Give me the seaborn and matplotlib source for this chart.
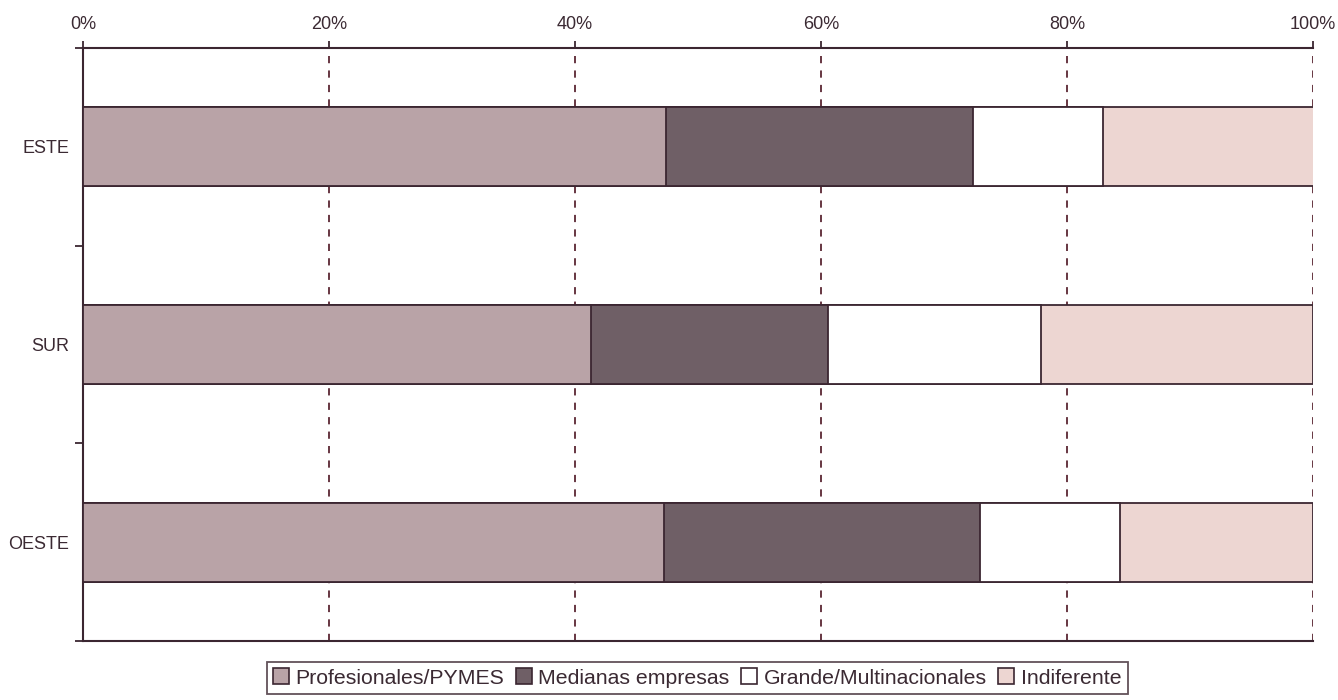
import matplotlib
matplotlib.use("Agg")
import matplotlib.pyplot as plt
import seaborn as sns
import numpy as np
import pandas as pd
from matplotlib.patches import Patch
from matplotlib.ticker import FixedLocator, PercentFormatter

# ---- data (percent of each region) ----
regions = ["ESTE", "SUR", "OESTE"]
series_names = ["Profesionales/PYMES", "Medianas empresas",
                "Grande/Multinacionales", "Indiferente"]
profesionales = [47.4, 41.3, 47.2]
medianas = [25.0, 19.3, 25.7]
grandes = [10.5, 17.3, 11.4]
indiferente = [17.2, 22.1, 15.7]
x_ticks = [0, 20, 40, 60, 80, 100]

colors = ["#b9a3a7", "#6f5f66", "#ffffff", "#edd6d2"]
edge = "#3b2631"
text_col = "#3b2a33"

sns.set_theme(style="white")
plt.rcParams["font.family"] = ["Liberation Sans", "DejaVu Sans"]

fig = plt.figure(figsize=(13.38, 7.0), dpi=100)
ax = fig.add_axes([0.0620, 0.0843, 0.9193, 0.8471])

values = [profesionales, medianas, grandes, indiferente]
cum = np.cumsum(np.array(values), axis=0)

# draw cumulative totals from largest to smallest so each segment shows
for i in range(len(series_names) - 1, -1, -1):
    df = pd.DataFrame({"region": regions, "value": cum[i]})
    sns.barplot(data=df, x="value", y="region", orient="h", ax=ax,
                color=colors[i], saturation=1, width=0.4,
                edgecolor=edge, linewidth=1.3, zorder=3)

ax.set_xlim(0, 100)
ax.set_ylim(2.5, -0.5)
ax.set_xlabel("")
ax.set_ylabel("")

# x axis on top
ax.xaxis.set_ticks_position("top")
ax.xaxis.set_label_position("top")
ax.xaxis.set_major_locator(FixedLocator(x_ticks))
ax.xaxis.set_major_formatter(PercentFormatter(decimals=0))
ax.tick_params(axis="x", which="major", direction="out", length=5, width=1.3,
               color=edge, pad=6, labelsize=13, labelcolor=text_col, top=True, bottom=False)

# y labels without tick marks, minor ticks at category boundaries
ax.set_yticks(range(len(regions)))
ax.set_yticklabels(regions)
ax.set_yticks([-0.5, 0.5, 1.5, 2.5], minor=True)
ax.tick_params(axis="y", which="major", length=0, pad=10, labelsize=13,
               labelcolor=text_col, left=True)
ax.tick_params(axis="y", which="minor", direction="out", length=6, width=1.3,
               color=edge, left=True)

# dashed vertical gridlines
for xv in x_ticks[1:]:
    ax.axvline(xv, color="#5a2633", lw=1.3, ls=(0, (4, 4)), zorder=1)

for side in ["top", "left", "bottom"]:
    ax.spines[side].set_visible(True)
    ax.spines[side].set_color(edge)
    ax.spines[side].set_linewidth(1.5)
ax.spines["right"].set_visible(False)

handles = [Patch(facecolor=colors[i], edgecolor=edge, linewidth=1.2,
                 label=series_names[i]) for i in range(len(series_names))]
leg = fig.legend(handles=handles, loc="upper center", bbox_to_anchor=(0.521, 0.0543),
                 ncol=4, frameon=True, fancybox=False, fontsize=15.3,
                 handlelength=0.75, handleheight=0.75, handletextpad=0.3,
                 columnspacing=0.55, borderpad=0.3, borderaxespad=0)
leg.get_frame().set_edgecolor(edge)
leg.get_frame().set_linewidth(1.3)
for t in leg.get_texts():
    t.set_color(text_col)

fig.savefig("out.png", dpi=100)
